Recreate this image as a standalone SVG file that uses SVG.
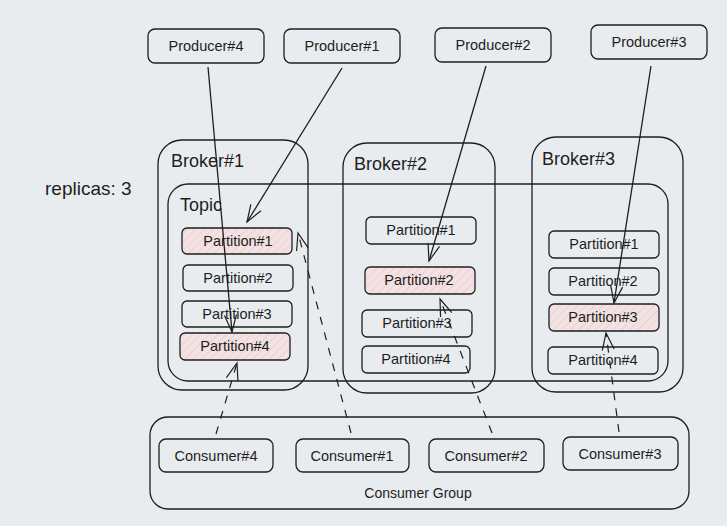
<svg xmlns="http://www.w3.org/2000/svg" width="727" height="526" viewBox="0 0 727 526">
<defs>
<pattern id="hatch" width="6" height="6" patternUnits="userSpaceOnUse" patternTransform="rotate(45)">
<rect width="6" height="6" fill="#f1e2e4"/>
<line x1="0" y1="0" x2="0" y2="6" stroke="#f5c6c9" stroke-width="1.5"/>
</pattern>
<marker id="arr" viewBox="0 0 20 20" refX="18" refY="10" markerWidth="20" markerHeight="20" markerUnits="userSpaceOnUse" orient="auto">
<path d="M1,4 L18,10 L1,16" fill="none" stroke="#1e1e1e" stroke-width="1.2"/>
</marker>
</defs>
<style>
.box{fill:none;stroke:#1e1e1e;stroke-width:1.3}
.pink{fill:url(#hatch);stroke:#1e1e1e;stroke-width:1.3}
text{font-family:"Liberation Sans",Arial,sans-serif;fill:#1e1e1e}
.t14{font-size:14.5px;text-anchor:middle}
.tp{font-size:14.5px;text-anchor:middle}
.tb{font-size:18px}
.solid{fill:none;stroke:#1e1e1e;stroke-width:1.3;marker-end:url(#arr)}
.dash{fill:none;stroke:#1e1e1e;stroke-width:1.2;stroke-dasharray:8 8;marker-end:url(#arr)}
</style>
<rect width="727" height="526" fill="#e9ecef"/>

<text x="45" y="195" font-size="19">replicas: 3</text>

<g id="broker1"><rect class="box" x="158" y="140" width="150" height="250" rx="24"/><text class="tb" x="171" y="167">Broker#1</text></g>
<g id="broker2"><rect class="box" x="343" y="143" width="152" height="250" rx="24"/><text class="tb" x="354" y="170">Broker#2</text></g>
<g id="broker3"><rect class="box" x="532" y="137" width="151" height="255" rx="24"/><text class="tb" x="542" y="165">Broker#3</text></g>

<g id="topic"><rect class="box" x="168" y="184" width="500" height="197" rx="20"/><text x="180" y="211" font-size="18">Topic</text></g>

<g id="b1p1"><rect class="pink" x="182" y="228" width="110" height="26" rx="5"/><text class="tp" x="238" y="246">Partition#1</text></g>
<g id="b1p2"><rect class="box" x="183" y="265" width="110" height="26" rx="5"/><text class="tp" x="238" y="283">Partition#2</text></g>
<g id="b1p3"><rect class="box" x="182" y="301" width="110" height="26" rx="5"/><text class="tp" x="237" y="319">Partition#3</text></g>
<g id="b1p4"><rect class="pink" x="180" y="333" width="110" height="27" rx="5"/><text class="tp" x="235" y="351">Partition#4</text></g>

<g id="b2p1"><rect class="box" x="366" y="217" width="110" height="27" rx="5"/><text class="tp" x="421" y="235">Partition#1</text></g>
<g id="b2p2"><rect class="pink" x="365" y="267" width="110" height="27" rx="5"/><text class="tp" x="419" y="285">Partition#2</text></g>
<g id="b2p3"><rect class="box" x="362" y="310" width="110" height="27" rx="5"/><text class="tp" x="417" y="328">Partition#3</text></g>
<g id="b2p4"><rect class="box" x="362" y="346" width="108" height="27" rx="5"/><text class="tp" x="416" y="364">Partition#4</text></g>

<g id="b3p1"><rect class="box" x="549" y="231" width="110" height="27" rx="5"/><text class="tp" x="604" y="249">Partition#1</text></g>
<g id="b3p2"><rect class="box" x="549" y="268" width="110" height="27" rx="5"/><text class="tp" x="603" y="286">Partition#2</text></g>
<g id="b3p3"><rect class="pink" x="549" y="304" width="110" height="27" rx="5"/><text class="tp" x="603" y="322">Partition#3</text></g>
<g id="b3p4"><rect class="box" x="548" y="347" width="110" height="27" rx="5"/><text class="tp" x="603" y="365">Partition#4</text></g>

<g id="producer4"><rect class="box" x="148" y="29" width="116" height="34" rx="7"/><text class="t14" x="206" y="51">Producer#4</text></g>
<g id="producer1"><rect class="box" x="284" y="29" width="116" height="34" rx="7"/><text class="t14" x="342" y="51">Producer#1</text></g>
<g id="producer2"><rect class="box" x="435" y="28" width="116" height="34" rx="7"/><text class="t14" x="493" y="50">Producer#2</text></g>
<g id="producer3"><rect class="box" x="591" y="25" width="116" height="34" rx="7"/><text class="t14" x="649" y="47">Producer#3</text></g>

<g id="consumer-group"><rect class="box" x="150" y="417" width="539" height="92" rx="18"/><text x="418" y="498" font-size="14" text-anchor="middle">Consumer Group</text></g>
<g id="consumer4"><rect class="box" x="159" y="439" width="114" height="33" rx="7"/><text class="t14" x="216" y="461">Consumer#4</text></g>
<g id="consumer1"><rect class="box" x="296" y="439" width="113" height="33" rx="7"/><text class="t14" x="352" y="461">Consumer#1</text></g>
<g id="consumer2"><rect class="box" x="429" y="439" width="115" height="33" rx="7"/><text class="t14" x="486" y="461">Consumer#2</text></g>
<g id="consumer3"><rect class="box" x="563" y="437" width="115" height="33" rx="7"/><text class="t14" x="620" y="459">Consumer#3</text></g>

<g id="connectors">
<path class="solid" d="M208,67 L232,332"/>
<path class="solid" d="M342,68 L247,222"/>
<path class="solid" d="M486,66 L429,261"/>
<path class="solid" d="M651,66 L614,303"/>
<path class="dash" d="M216,434 L237,363"/>
<path class="dash" d="M351,433 L298,233"/>
<path class="dash" d="M492,433 L440,299"/>
<path class="dash" d="M619,432 L606,333"/>
</g>
</svg>
